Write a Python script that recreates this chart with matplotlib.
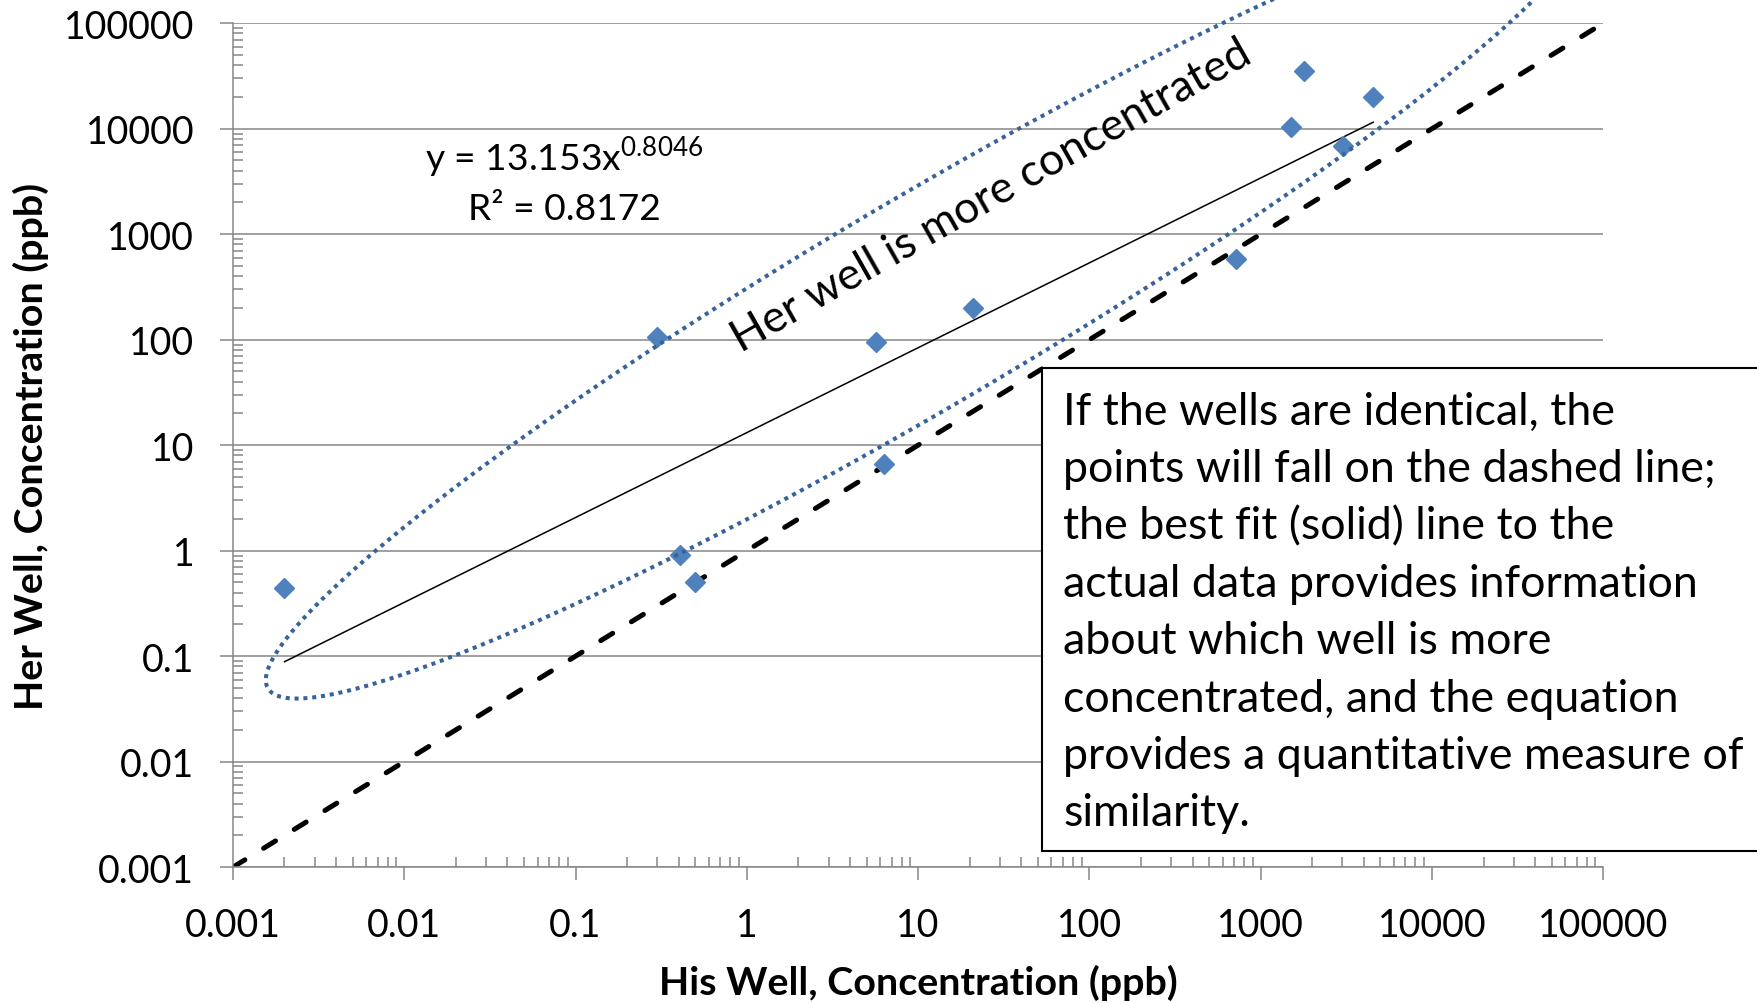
import numpy as np
import matplotlib
matplotlib.use("Agg")
import matplotlib.pyplot as plt
from matplotlib.patches import Rectangle
from matplotlib.ticker import LogLocator, NullFormatter

plt.rcParams["font.family"] = ["Lato", "DejaVu Sans"]

# ---- values (ppb) ----
his_well = [0.002, 0.30, 0.41, 0.50, 5.7, 6.3, 21, 716, 1500, 1780, 3030, 4540]
her_well = [0.44, 105, 0.91, 0.51, 96, 6.6, 199, 580, 10400, 35500, 6900, 20100]

# power-law trendline shown on the chart
fit_coef = 13.153
fit_exp = 0.8046
fit_r2 = 0.8172

decades = [0.001, 0.01, 0.1, 1, 10, 100, 1000, 10000, 100000]
decade_labels = ["0.001", "0.01", "0.1", "1", "10", "100", "1000", "10000", "100000"]

# hand-drawn loop round the "her well higher" points, in log10 decades:
# centre plus two conjugate half-diameters
loop_center = (1.053, 2.374)
loop_half_a = (3.861, 3.600)
loop_half_b = (0.0, 1.138)

note_text = ("If the wells are identical, the\n"
             "points will fall on the dashed line;\n"
             "the best fit (solid) line to the\n"
             "actual data provides information\n"
             "about which well is more\n"
             "concentrated, and the equation\n"
             "provides a quantitative measure of\n"
             "similarity.")

GRAY = "#868686"
BLUE = "#4F81BD"
LOOP = "#38629A"

fig = plt.figure(figsize=(17.58, 10.04), dpi=100)
ax = fig.add_axes([0.1325, 0.1353, 0.7795, 0.8406])
ax.set_xscale("log")
ax.set_yscale("log")
ax.set_xlim(decades[0], decades[-1])
ax.set_ylim(decades[0], decades[-1])

# ---- 1:1 line (dashed) ----
ax.plot([decades[0], decades[-1]], [decades[0], decades[-1]], color="black",
        lw=3.6, ls=(0, (2.8, 4.4)), dash_capstyle="round", zorder=2)

# ---- best fit line over the data range ----
xf = np.logspace(np.log10(min(his_well)), np.log10(max(his_well)), 200)
ax.plot(xf, fit_coef * xf ** fit_exp, color="black", lw=1.1, zorder=2)

# ---- data ----
ax.plot(his_well, her_well, ls="none", marker="D", ms=10, color=BLUE,
        mec=BLUE, zorder=3)

# ---- dotted loop ----
t = np.linspace(0, 2 * np.pi, 600)
lu = loop_center[0] + loop_half_a[0] * np.cos(t) + loop_half_b[0] * np.sin(t)
lv = loop_center[1] + loop_half_a[1] * np.cos(t) + loop_half_b[1] * np.sin(t)
ax.plot(10 ** lu, 10 ** lv, color=LOOP, lw=2.9, ls=(0, (1, 1.2)),
        clip_on=False, zorder=4)

# ---- axes styling ----
for side in ["top", "right"]:
    ax.spines[side].set_visible(False)
for side in ["left", "bottom"]:
    ax.spines[side].set_color(GRAY)
    ax.spines[side].set_linewidth(1.1)
ax.yaxis.grid(True, which="major", color=GRAY, lw=1.1)
ax.set_axisbelow(True)

ax.set_xticks(decades)
ax.set_xticklabels(decade_labels)
ax.set_yticks(decades)
ax.set_yticklabels(decade_labels)
for axis in [ax.xaxis, ax.yaxis]:
    axis.set_minor_locator(LogLocator(base=10, subs=np.arange(2, 10), numticks=20))
    axis.set_minor_formatter(NullFormatter())
ax.tick_params(which="major", direction="out", length=9.4, width=1.1,
               color=GRAY, labelsize=27)
ax.tick_params(which="minor", direction="in", length=7, width=1.1, color=GRAY)
ax.tick_params(axis="x", which="major", pad=19.5)
ax.tick_params(axis="y", which="major", pad=18.5)

ax.set_xlabel("His Well, Concentration (ppb)", fontsize=28.4, fontweight="bold")
ax.set_ylabel("Her Well, Concentration (ppb)", fontsize=28.4, fontweight="bold")
ax.xaxis.label.set_va("center")
ax.yaxis.label.set_va("center")
ax.xaxis.set_label_coords(0.5, -0.136)
ax.yaxis.set_label_coords(-0.1474, 0.5)

# ---- trendline equation ----
ax.text(0.2416, 0.8415, r"y = 13.153x$^{\mathregular{%.4f}}$" % fit_exp,
        transform=ax.transAxes, ha="center", va="center", fontsize=26.8)
ax.text(0.2416, 0.780, "R² = %.4f" % fit_r2, transform=ax.transAxes,
        ha="center", va="center", fontsize=26.8)

ax.text(29.2, 1820, "Her well is more concentrated", rotation=29.6,
        rotation_mode="anchor", ha="center", va="baseline", fontsize=32,
        zorder=5)

# ---- explanation box ----
fig.patches.append(Rectangle((0.5925, 0.1514), 0.43, 0.4811,
                             transform=fig.transFigure, facecolor="white",
                             edgecolor="black", lw=1.5, zorder=5))
fig.text(0.6047, 0.6100, note_text, ha="left", va="top", fontsize=32.2,
         linespacing=1.495, zorder=6)

fig.savefig("out.png", dpi=100)
